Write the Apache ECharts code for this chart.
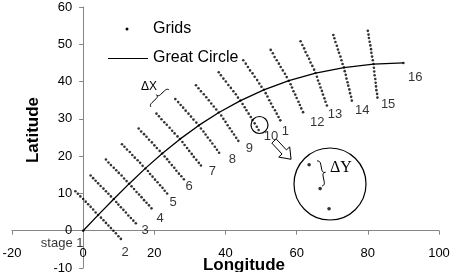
<!DOCTYPE html>
<html>
<head>
<meta charset="utf-8">
<script src="https://cdn.jsdelivr.net/npm/echarts@6/dist/echarts.min.js"></script>
<style>
html, body { margin: 0; padding: 0; background: #fff; }
#chart { width: 454px; height: 272px; }
</style>
</head>
<body>
<div id="chart"></div>
<script>
// grid points of stages 2..15 (one row per stage, bottom -> top)
const gridLon = [
    [10.6, 9.9, 9.2, 8.5, 7.8, 7.1, 6.4, 5.7, 5.0, 4.2, 3.5, 2.8, 2.1, 1.4, 0.7, 0.0, -0.8, -1.5, -2.2],
    [14.8, 14.1, 13.4, 12.7, 12.0, 11.3, 10.6, 9.9, 9.3, 8.6, 7.8, 7.1, 6.4, 5.7, 4.9, 4.2, 3.5, 2.8, 2.1],
    [19.2, 18.5, 17.8, 17.1, 16.4, 15.7, 15.0, 14.3, 13.6, 12.9, 12.2, 11.5, 10.8, 10.0, 9.3, 8.6, 7.8, 7.1, 6.4],
    [23.6, 22.9, 22.3, 21.6, 20.9, 20.2, 19.5, 18.8, 18.2, 17.5, 16.7, 16.0, 15.3, 14.5, 13.8, 13.1, 12.3, 11.6, 10.9],
    [28.3, 27.6, 26.9, 26.2, 25.6, 24.9, 24.2, 23.6, 22.9, 22.2, 21.5, 20.7, 20.0, 19.3, 18.5, 17.8, 17.1, 16.3, 15.6],
    [33.1, 32.5, 31.8, 31.1, 30.5, 29.8, 29.2, 28.5, 27.9, 27.2, 26.5, 25.7, 25.0, 24.3, 23.5, 22.8, 22.0, 21.3, 20.6],
    [38.2, 37.6, 37.0, 36.3, 35.7, 35.0, 34.4, 33.8, 33.1, 32.5, 31.8, 31.0, 30.3, 29.6, 28.8, 28.1, 27.4, 26.7, 25.9],
    [43.6, 43.0, 42.4, 41.8, 41.2, 40.6, 40.0, 39.4, 38.8, 38.1, 37.4, 36.7, 36.0, 35.3, 34.6, 33.9, 33.1, 32.4, 31.7],
    [49.3, 48.8, 48.2, 47.6, 47.1, 46.5, 45.9, 45.4, 44.8, 44.2, 43.5, 42.9, 42.2, 41.5, 40.8, 40.1, 39.4, 38.7, 38.1],
    [55.4, 54.9, 54.4, 53.9, 53.3, 52.8, 52.3, 51.8, 51.3, 50.8, 50.1, 49.5, 48.9, 48.2, 47.6, 46.9, 46.3, 45.7, 45.0],
    [61.8, 61.3, 60.9, 60.5, 60.0, 59.6, 59.1, 58.7, 58.3, 57.8, 57.2, 56.7, 56.1, 55.5, 55.0, 54.4, 53.8, 53.3, 52.7],
    [68.5, 68.1, 67.8, 67.4, 67.1, 66.7, 66.4, 66.0, 65.7, 65.3, 64.9, 64.4, 63.9, 63.5, 63.0, 62.5, 62.1, 61.6, 61.1],
    [75.5, 75.3, 75.0, 74.8, 74.5, 74.3, 74.0, 73.8, 73.5, 73.3, 72.9, 72.6, 72.3, 71.9, 71.6, 71.3, 70.9, 70.6, 70.3],
    [82.7, 82.6, 82.4, 82.3, 82.2, 82.1, 81.9, 81.8, 81.7, 81.6, 81.4, 81.2, 81.0, 80.9, 80.7, 80.5, 80.3, 80.2, 80.0]
];
const gridLat = [
    [-2.2, -1.5, -0.7, 0.0, 0.7, 1.4, 2.1, 2.8, 3.5, 4.2, 4.9, 5.7, 6.4, 7.1, 7.8, 8.5, 9.2, 9.9, 10.6],
    [2.0, 2.7, 3.4, 4.1, 4.9, 5.6, 6.3, 7.0, 7.7, 8.5, 9.2, 9.9, 10.6, 11.3, 12.0, 12.7, 13.4, 14.1, 14.8],
    [6.0, 6.8, 7.5, 8.2, 9.0, 9.7, 10.4, 11.2, 11.9, 12.6, 13.3, 14.0, 14.8, 15.5, 16.2, 16.9, 17.6, 18.3, 19.1],
    [10.0, 10.7, 11.5, 12.2, 13.0, 13.7, 14.5, 15.2, 16.0, 16.7, 17.4, 18.2, 18.9, 19.6, 20.3, 21.1, 21.8, 22.5, 23.2],
    [13.8, 14.6, 15.3, 16.1, 16.9, 17.6, 18.4, 19.2, 19.9, 20.7, 21.4, 22.2, 22.9, 23.7, 24.4, 25.2, 25.9, 26.6, 27.4],
    [17.5, 18.2, 19.0, 19.8, 20.6, 21.4, 22.2, 23.0, 23.8, 24.6, 25.3, 26.1, 26.8, 27.6, 28.4, 29.1, 29.9, 30.7, 31.4],
    [20.9, 21.7, 22.5, 23.4, 24.2, 25.0, 25.8, 26.6, 27.4, 28.2, 29.0, 29.8, 30.6, 31.4, 32.2, 33.0, 33.7, 34.5, 35.3],
    [24.1, 24.9, 25.8, 26.6, 27.5, 28.3, 29.2, 30.0, 30.9, 31.7, 32.5, 33.3, 34.1, 35.0, 35.8, 36.6, 37.4, 38.2, 39.0],
    [27.0, 27.9, 28.8, 29.7, 30.5, 31.4, 32.3, 33.1, 34.0, 34.9, 35.7, 36.6, 37.4, 38.3, 39.1, 40.0, 40.8, 41.7, 42.5],
    [29.6, 30.5, 31.4, 32.3, 33.2, 34.1, 35.0, 36.0, 36.9, 37.8, 38.6, 39.5, 40.4, 41.3, 42.2, 43.0, 43.9, 44.8, 45.7],
    [31.8, 32.8, 33.7, 34.6, 35.6, 36.5, 37.4, 38.4, 39.3, 40.2, 41.2, 42.1, 43.0, 43.9, 44.8, 45.7, 46.6, 47.6, 48.5],
    [33.6, 34.6, 35.5, 36.5, 37.5, 38.4, 39.4, 40.3, 41.3, 42.3, 43.2, 44.2, 45.1, 46.1, 47.0, 47.9, 48.9, 49.8, 50.8],
    [34.9, 35.9, 36.9, 37.9, 38.9, 39.8, 40.8, 41.8, 42.8, 43.8, 44.7, 45.7, 46.7, 47.7, 48.6, 49.6, 50.6, 51.6, 52.5],
    [35.7, 36.7, 37.7, 38.7, 39.7, 40.7, 41.7, 42.7, 43.7, 44.7, 45.7, 46.7, 47.7, 48.7, 49.7, 50.7, 51.7, 52.6, 53.6]
];
// stage 1 and stage 16 are single points
const endLon = [0, 90];
const endLat = [0, 45];

// great circle path
const circleLon = [0, 4.25, 8.55, 12.94, 17.47, 22.21, 27.19, 32.48, 38.14, 44.22, 50.77, 57.81, 65.32, 73.27, 81.55, 90];
const circleLat = [0, 4.24, 8.45, 12.62, 16.72, 20.70, 24.56, 28.24, 31.70, 34.89, 37.76, 40.24, 42.26, 43.76, 44.69, 45];

// stage labels
const stageNames = ['stage 1', '2', '3', '4', '5', '6', '7', '8', '9', '10', '1', '12', '13', '14', '15', '16'];
const stageLabelLon = [-5.9, 11.8, 17.4, 21.6, 25.3, 29.8, 36.3, 41.9, 46.7, 52.8, 56.8, 65.8, 70.8, 78.4, 85.7, 93.3];
const stageLabelLat = [-3.5, -5.9, 0.0, 3.2, 7.5, 11.8, 15.8, 19.0, 22.0, 25.2, 26.5, 29.0, 31.1, 32.2, 33.8, 41.0];

// zoomed-in detail dots
const insetLon = [63.5, 66.6, 69.1];
const insetLat = [17.7, 11.3, 5.9];

const FONT = 'Liberation Sans, Arial, sans-serif';
const SERIF = 'Liberation Serif, Times New Roman, serif';

// 组装数据
let gridData = [[endLon[0], endLat[0]]];
for (let i = 0; i < gridLon.length; i++) {
    for (let j = 0; j < gridLon[i].length; j++) {
        gridData.push([gridLon[i][j], gridLat[i][j]]);
    }
}
gridData.push([endLon[1], endLat[1]]);

const circleData = circleLon.map((v, i) => [v, circleLat[i]]);
const labelData = stageNames.map((n, i) => ({ name: n, value: [stageLabelLon[i], stageLabelLat[i]] }));
const insetData = insetLon.map((v, i) => [v, insetLat[i]]);

// curly brace as polyline points
function braceLine(x0, y0, x1, y1, d) {
    const L = Math.hypot(x1 - x0, y1 - y0);
    const ux = (x1 - x0) / L, uy = (y1 - y0) / L;
    const nx = uy, ny = -ux;
    const P = (t, h) => [x0 + ux * t + nx * h, y0 + uy * t + ny * h];
    const pts = [P(0, 0)];
    const quad = (a, b, c) => {
        for (let i = 1; i <= 6; i++) {
            const s = i / 6;
            pts.push([
                (1 - s) * (1 - s) * a[0] + 2 * (1 - s) * s * b[0] + s * s * c[0],
                (1 - s) * (1 - s) * a[1] + 2 * (1 - s) * s * b[1] + s * s * c[1]
            ]);
        }
    };
    const h = d / 2;
    quad(P(0, 0), P(0, h), P(L * 0.15, h));
    pts.push(P(L * 0.38, h));
    quad(P(L * 0.38, h), P(L * 0.5, h), P(L * 0.5, d));
    quad(P(L * 0.5, d), P(L * 0.5, h), P(L * 0.62, h));
    pts.push(P(L * 0.85, h));
    quad(P(L * 0.85, h), P(L, h), P(L, 0));
    return pts;
}

// block arrow
function arrowShape(x0, y0, angle) {
    const ux = Math.cos(angle), uy = Math.sin(angle);
    const nx = -uy, ny = ux;
    const local = [[0, -3], [15, -3], [15, -7.5], [25, 0], [15, 7.5], [15, 3], [0, 3]];
    return local.map(p => [x0 + ux * p[0] + nx * p[1], y0 + uy * p[0] + ny * p[1]]);
}

const chart = echarts.init(document.getElementById('chart'));
const axisColor = '#868686';
// 坐标轴移到零点（偏移像素）
const gridLeft = 12, gridRight = 15, gridTop = 7, gridBottom = 4;
const plotW = 454 - gridLeft - gridRight, plotH = 272 - gridTop - gridBottom;
const xZeroOffset = -(plotW * 20 / 120);
const yZeroOffset = -(plotH * 10 / 70);
const option = {
    animation: false,
    backgroundColor: '#fff',
    grid: { left: gridLeft, right: gridRight, top: gridTop, bottom: gridBottom, containLabel: false, outerBoundsMode: 'none' },
    xAxis: {
        type: 'value', min: -20, max: 100, interval: 20,
        position: 'bottom', offset: yZeroOffset,
        axisLine: { show: true, onZero: false, lineStyle: { color: axisColor, width: 1 } },
        axisTick: { show: true, length: 4, lineStyle: { color: axisColor } },
        axisLabel: { margin: 16, fontSize: 13, color: '#000', fontFamily: FONT },
        splitLine: { show: false }
    },
    yAxis: {
        type: 'value', min: -10, max: 60, interval: 10,
        position: 'left', offset: xZeroOffset,
        axisLine: { show: true, onZero: false, lineStyle: { color: axisColor, width: 1 } },
        axisTick: { show: true, length: 4, lineStyle: { color: axisColor } },
        axisLabel: { margin: 11, fontSize: 13, color: '#000', fontFamily: FONT },
        splitLine: { show: false }
    },
    series: [
        {
            name: 'Grids', type: 'scatter', data: gridData,
            symbol: 'circle', symbolSize: 2.6,
            itemStyle: { color: '#000' }, z: 3
        },
        {
            name: 'Great Circle', type: 'line', data: circleData,
            showSymbol: false, symbol: 'none',
            lineStyle: { color: '#000', width: 1.3 }, z: 2
        },
        {
            name: 'inset', type: 'scatter', data: insetData,
            symbol: 'circle', symbolSize: 3.6,
            itemStyle: { color: '#000' }, z: 4
        },
        {
            name: 'labels', type: 'scatter', data: labelData,
            symbolSize: 1, itemStyle: { color: 'transparent' },
            label: {
                show: true, position: 'inside', formatter: '{b}',
                fontSize: 13, color: '#000', fontFamily: FONT
            },
            z: 5
        }
    ],
    graphic: [
        // legend
        { type: 'circle', shape: { cx: 127, cy: 29, r: 1.5 }, style: { fill: '#000' } },
        { type: 'text', style: { x: 153, y: 29, text: 'Grids', font: '16px ' + FONT, fill: '#000', verticalAlign: 'middle' } },
        { type: 'line', shape: { x1: 108, y1: 58.5, x2: 148, y2: 58.5 }, style: { stroke: '#000', lineWidth: 1.2 } },
        { type: 'text', style: { x: 153, y: 58, text: 'Great Circle', font: '16px ' + FONT, fill: '#000', verticalAlign: 'middle' } },
        // axis titles
        { type: 'text', x: 33, y: 130, rotation: Math.PI / 2, style: { x: 0, y: 0, text: 'Latitude', font: 'bold 17px ' + FONT, fill: '#000', align: 'center', verticalAlign: 'middle' } },
        { type: 'text', style: { x: 244, y: 265, text: 'Longitude', font: 'bold 17px ' + FONT, fill: '#000', align: 'center', verticalAlign: 'middle' } },
        // ΔX annotation
        { type: 'polyline', shape: { points: braceLine(151, 107, 169, 90, 5) }, style: { stroke: '#000', lineWidth: 1, fill: null } },
        { type: 'text', style: { x: 149, y: 87, text: 'ΔX', font: '12px ' + FONT, fill: '#000', align: 'center', verticalAlign: 'middle' } },
        // small circle + arrow
        { type: 'circle', shape: { cx: 259.5, cy: 125, r: 8.5 }, style: { fill: null, stroke: '#000', lineWidth: 1.2 } },
        { type: 'polygon', shape: { points: arrowShape(274, 141, 47 * Math.PI / 180) }, style: { fill: '#fff', stroke: '#000', lineWidth: 1 }, z: 10 },
        // big circle with ΔY
        { type: 'circle', shape: { cx: 330, cy: 184, r: 36 }, style: { fill: null, stroke: '#000', lineWidth: 1.2 } },
        { type: 'polyline', shape: { points: braceLine(317, 161, 322, 186, 6) }, style: { stroke: '#000', lineWidth: 1, fill: null } },
        { type: 'text', style: { x: 341, y: 168, text: 'ΔY', font: '16px ' + SERIF, fill: '#000', align: 'center', verticalAlign: 'middle' } }
    ]
};
chart.setOption(option);
</script>
</body>
</html>
